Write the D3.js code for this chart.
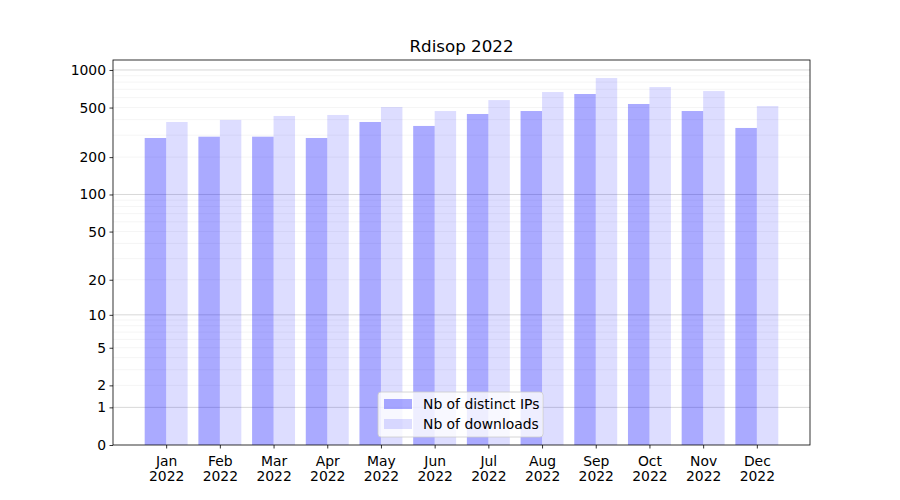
<!DOCTYPE html>
<html><head><meta charset="utf-8">
<script src="https://cdn.jsdelivr.net/npm/d3@7"></script>
<style>body{margin:0;background:#fff}svg{display:block}text{font-family:"DejaVu Sans",sans-serif}</style>
</head><body><svg id="c" width="900" height="500"></svg>
<script>
const months = ["Jan","Feb","Mar","Apr","May","Jun","Jul","Aug","Sep","Oct","Nov","Dec"];
const yearLabel = "2022";
const distinctIPs = [285, 292, 292, 285, 383, 356, 444, 469, 642, 534, 469, 343];
const downloads   = [383, 398, 428, 436, 505, 469, 574, 666, 862, 730, 678, 514];
const yTicks = [0, 1, 2, 5, 10, 20, 50, 100, 200, 500, 1000];
const seriesNames = ["Nb of distinct IPs", "Nb of downloads"];
const title = "Rdisop 2022";
const yMax = 1202;

const svg = d3.select("#c");
const L = 113, R = 810, T = 60, B = 445;

const x = d3.scaleLinear().domain([-0.99, 11.99]).range([L, R]);
const y = d3.scaleSymlog().constant(1).domain([0, yMax]).range([B, T]);

// grid lines
const minor = [], major = [1, 10, 100, 1000];
[1, 10, 100].forEach(d => { for (let k = 2; k <= 9; k++) minor.push(d * k); });
const g = svg.append("g");
g.selectAll(".mn").data(minor).join("line")
  .attr("x1", L).attr("x2", R).attr("y1", d => y(d)).attr("y2", d => y(d))
  .attr("stroke", "#000").attr("stroke-opacity", 0.06).attr("stroke-width", 0.8);
g.selectAll(".mj").data(major).join("line")
  .attr("x1", L).attr("x2", R).attr("y1", d => y(d)).attr("y2", d => y(d))
  .attr("stroke", "#000").attr("stroke-opacity", 0.2).attr("stroke-width", 0.8);

// bars
const bw = 0.4;
svg.append("g").selectAll("rect").data(distinctIPs).join("rect")
  .attr("x", (d, i) => x(i - bw)).attr("width", x(bw) - x(0))
  .attr("y", d => y(d)).attr("height", d => y(0) - y(d))
  .attr("fill", "#0000ff").attr("fill-opacity", 0.333);
svg.append("g").selectAll("rect").data(downloads).join("rect")
  .attr("x", (d, i) => x(i)).attr("width", x(bw) - x(0))
  .attr("y", d => y(d)).attr("height", d => y(0) - y(d))
  .attr("fill", "#0000ff").attr("fill-opacity", 0.133);

// axes
const yAxis = d3.axisLeft(y).tickValues(yTicks).tickFormat(d3.format("d")).tickSize(3.5).tickPadding(3.5);
const ya = svg.append("g").attr("transform", `translate(${L},0)`).call(yAxis);
ya.select(".domain").remove();
ya.selectAll("text").attr("font-size", 13.9).attr("fill", "#000");
ya.selectAll("line").attr("stroke", "#000").attr("stroke-width", 0.8);

const xAxis = d3.axisBottom(x).tickValues(d3.range(months.length)).tickFormat("").tickSize(3.5);
const xa = svg.append("g").attr("transform", `translate(0,${B})`).call(xAxis);
xa.select(".domain").remove();
xa.selectAll("line").attr("stroke", "#000").attr("stroke-width", 0.8);
xa.selectAll(".tick").append("text").attr("fill", "#000").attr("font-size", 13.9)
  .attr("text-anchor", "middle")
  .each(function(d) {
    const t = d3.select(this);
    t.append("tspan").attr("x", 0).attr("y", 21).text(months[d]);
    t.append("tspan").attr("x", 0).attr("y", 36).text(yearLabel);
  });

// frame
svg.append("rect").attr("x", L).attr("y", T).attr("width", R - L).attr("height", B - T)
  .attr("fill", "none").attr("stroke", "#000").attr("stroke-width", 0.8);

// title
svg.append("text").attr("x", (L + R) / 2).attr("y", 52).attr("text-anchor", "middle")
  .attr("font-size", 16.7).attr("fill", "#000").text(title);

// legend
const lg = svg.append("g").attr("transform", "translate(378,392)");
lg.append("rect").attr("width", 165).attr("height", 45).attr("rx", 3)
  .attr("fill", "#fff").attr("fill-opacity", 0.8).attr("stroke", "#ccc").attr("stroke-width", 0.8);
[0.333, 0.133].forEach((op, i) => {
  lg.append("rect").attr("x", 6).attr("y", 7 + i * 20).attr("width", 28).attr("height", 10)
    .attr("fill", "#0000ff").attr("fill-opacity", op);
  lg.append("text").attr("x", 45).attr("y", 17 + i * 20).attr("font-size", 13.9)
    .attr("fill", "#000").text(seriesNames[i]);
});
</script></body></html>
